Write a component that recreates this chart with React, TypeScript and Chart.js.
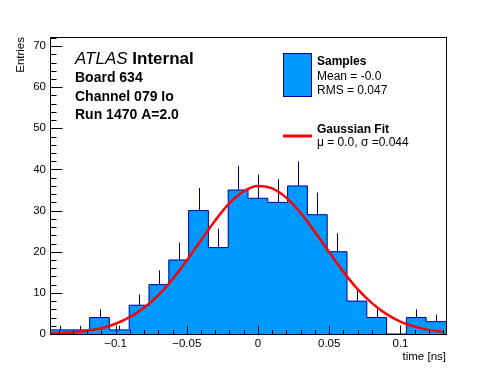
import React, { useEffect, useRef } from 'react';
import { Chart, registerables } from 'chart.js';

Chart.register(...registerables);

// ---- data ----
const binCounts = [1, 1, 4, 1, 7, 12, 18, 30, 21, 35, 33, 32, 36, 29, 20, 8, 4, 0, 4, 3];
const xMin = -0.146;
const xMax = 0.132;
const yMin = 0;
const yMax = 72.2;

const xTickValues = [-0.1, -0.05, 0, 0.05, 0.1];
const xTickLabels = ['\u22120.1', '\u22120.05', '0', '0.05', '0.1'];
const xMinorStep = 0.01;
const yTickValues = [0, 10, 20, 30, 40, 50, 60, 70];
const yTickLabels = ['0', '10', '20', '30', '40', '50', '60', '70'];
const yMinorStep = 2;

// Gaussian fit curve
const fitX = [-0.145, -0.14, -0.13, -0.12, -0.11, -0.1, -0.09, -0.08, -0.07, -0.06, -0.05, -0.04, -0.03, -0.02, -0.01, 0, 0.01, 0.02, 0.03, 0.04, 0.05, 0.06, 0.07, 0.08, 0.09, 0.1, 0.11, 0.12, 0.13];
const fitY = [0.15, 0.2, 0.4, 0.8, 1.4, 2.5, 4.1, 6.4, 9.4, 13.3, 17.9, 22.8, 27.6, 31.8, 34.7, 36.0, 35.4, 33.1, 29.4, 24.8, 19.9, 15.1, 10.9, 7.5, 4.9, 3.0, 1.8, 1.0, 0.5];

const xTitle = 'time [ns]';
const yTitle = 'Entries';
const infoLines = ['Board 634', 'Channel 079 Io', 'Run 1470 A=2.0'];
const legendSamples = ['Samples', 'Mean = -0.0', 'RMS = 0.047'];
const legendFit = ['Gaussian Fit', '\u03bc = 0.0, \u03c3 =0.044'];

const FILL = '#0099ff';
const OUTLINE = '#000099';
const FIT = '#ff0000';
const FONT = '"Liberation Sans", Arial, Helvetica, sans-serif';

export default function App() {
  const ref = useRef<HTMLCanvasElement>(null);

  useEffect(() => {
    const canvas = ref.current;
    if (!canvas) return;
    const nb = binCounts.length;
    const bw = (xMax - xMin) / nb;
    const histPts = binCounts.map((c, i) => ({ x: xMin + i * bw, y: c }));
    histPts.push({ x: xMax, y: binCounts[nb - 1] });
    const fitPts = fitX.map((x, i) => ({ x, y: fitY[i] }));

    const rootPlugin = {
      id: 'rootStyle',
      afterDatasetDraw(chart: any, args: any) {
        if (args.index !== 0) return;
        const { ctx, chartArea } = chart;
        const xs = chart.scales.x;
        const ys = chart.scales.y;
        ctx.save();
        ctx.beginPath();
        ctx.rect(chartArea.left, chartArea.top, chartArea.right - chartArea.left, chartArea.bottom - chartArea.top);
        ctx.clip();
        ctx.strokeStyle = OUTLINE;
        ctx.lineWidth = 1;
        binCounts.forEach((c, i) => {
          if (c <= 0) return;
          const cx = Math.round(xs.getPixelForValue(xMin + (i + 0.5) * bw)) + 0.5;
          ctx.beginPath();
          ctx.moveTo(cx, ys.getPixelForValue(c));
          ctx.lineTo(cx, ys.getPixelForValue(c + Math.sqrt(c)));
          ctx.stroke();
        });
        ctx.restore();
      },
      afterDraw(chart: any) {
        const { ctx, chartArea } = chart;
        const xs = chart.scales.x;
        const ys = chart.scales.y;
        const L = Math.round(chartArea.left) + 0.5;
        const R = Math.round(chartArea.right) + 0.5;
        const T = Math.round(chartArea.top) + 0.5;
        const B = Math.round(chartArea.bottom) + 0.5;
        ctx.save();
        ctx.strokeStyle = '#000';
        ctx.lineWidth = 1;
        ctx.strokeRect(L, T, R - L, B - T);
        // x ticks (inward)
        ctx.beginPath();
        const x0 = Math.ceil(xMin / xMinorStep) * xMinorStep;
        for (let v = x0; v <= xMax + 1e-9; v += xMinorStep) {
          const major = xTickValues.some((t) => Math.abs(t - v) < 1e-6);
          const px = Math.round(xs.getPixelForValue(v)) + 0.5;
          ctx.moveTo(px, B);
          ctx.lineTo(px, B - (major ? 9 : 4.5));
        }
        // y ticks (inward)
        for (let v = yMin; v <= yMax + 1e-9; v += yMinorStep) {
          const major = yTickValues.some((t) => Math.abs(t - v) < 1e-6);
          const py = Math.round(ys.getPixelForValue(v)) + 0.5;
          ctx.moveTo(L, py);
          ctx.lineTo(L + (major ? 12 : 6), py);
        }
        ctx.stroke();

        ctx.fillStyle = '#000';
        ctx.textBaseline = 'alphabetic';
        // axis titles
        ctx.font = `11.5px ${FONT}`;
        ctx.textAlign = 'right';
        ctx.fillText(xTitle, chartArea.right, 360);
        ctx.save();
        ctx.translate(24, chartArea.top);
        ctx.rotate(-Math.PI / 2);
        ctx.textAlign = 'right';
        ctx.fillText(yTitle, 0, 0);
        ctx.restore();

        // ATLAS label
        ctx.textAlign = 'left';
        ctx.font = `italic 17px ${FONT}`;
        ctx.fillText('ATLAS', 75, 64);
        const aw = ctx.measureText('ATLAS ').width;
        ctx.font = `bold 17px ${FONT}`;
        ctx.fillText('Internal', 75 + aw, 64);
        ctx.font = `bold 14px ${FONT}`;
        const infoY = [82, 101, 119];
        infoLines.forEach((t, i) => ctx.fillText(t, 75, infoY[i]));

        // legend
        ctx.fillStyle = FILL;
        ctx.fillRect(283, 53, 29, 44);
        ctx.strokeStyle = OUTLINE;
        ctx.lineWidth = 1;
        ctx.strokeRect(283.5, 53.5, 28, 43);
        ctx.strokeStyle = FIT;
        ctx.lineWidth = 3;
        ctx.beginPath();
        ctx.moveTo(283, 136);
        ctx.lineTo(312, 136);
        ctx.stroke();
        ctx.fillStyle = '#000';
        ctx.font = `bold 12px ${FONT}`;
        ctx.fillText(legendSamples[0], 317, 65);
        ctx.font = `12px ${FONT}`;
        ctx.fillText(legendSamples[1], 317, 80);
        ctx.fillText(legendSamples[2], 317, 94);
        ctx.font = `bold 12px ${FONT}`;
        ctx.fillText(legendFit[0], 317, 133);
        ctx.font = `12px ${FONT}`;
        ctx.fillText(legendFit[1], 317, 146);
        ctx.restore();
      },
    };

    const chart = new Chart(canvas, {
      type: 'line',
      data: {
        datasets: [
          {
            label: 'Samples',
            data: histPts,
            stepped: 'before',
            fill: 'origin',
            backgroundColor: FILL,
            borderColor: OUTLINE,
            borderWidth: 1,
            pointRadius: 0,
            order: 2,
          } as any,
          {
            label: 'Gaussian Fit',
            data: fitPts,
            fill: false,
            borderColor: FIT,
            borderWidth: 2.5,
            pointRadius: 0,
            cubicInterpolationMode: 'monotone',
            order: 1,
          } as any,
        ],
      },
      options: {
        responsive: false,
        animation: false,
        events: [],
        layout: { padding: { top: 37, right: 50, left: 0, bottom: 0 } },
        plugins: { legend: { display: false }, tooltip: { enabled: false }, title: { display: false } },
        scales: {
          x: {
            type: 'linear',
            min: xMin,
            max: xMax,
            offset: false,
            grid: { display: false, drawTicks: false },
            border: { display: false },
            afterBuildTicks: (s: any) => {
              s.ticks = xTickValues.map((v) => ({ value: v }));
            },
            afterFit: (s: any) => {
              s.height = 38;
            },
            ticks: {
              autoSkip: false,
              maxRotation: 0,
              padding: 3,
              color: '#000',
              font: { family: FONT, size: 11.5 },
              callback: (_v: any, i: number) => xTickLabels[i],
            },
          },
          y: {
            type: 'linear',
            min: yMin,
            max: yMax,
            grid: { display: false, drawTicks: false },
            border: { display: false },
            afterBuildTicks: (s: any) => {
              s.ticks = yTickValues.map((v) => ({ value: v }));
            },
            afterFit: (s: any) => {
              s.width = 50;
            },
            ticks: {
              autoSkip: false,
              padding: 4,
              color: '#000',
              font: { family: FONT, size: 11.5 },
              callback: (_v: any, i: number) => yTickLabels[i],
            },
          },
        },
      },
      plugins: [rootPlugin],
    });
    return () => chart.destroy();
  }, []);

  return (
    <div style={{ position: 'absolute', left: 0, top: 0, width: 496, height: 372, background: '#fff' }}>
      <canvas ref={ref} width={496} height={372} />
    </div>
  );
}
